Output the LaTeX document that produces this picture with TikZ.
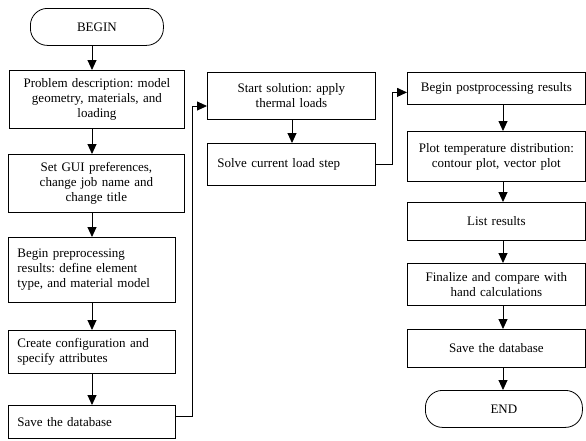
\documentclass[tikz,border=0pt]{standalone}
\usepackage{fontspec}
\setmainfont{Liberation Serif}
\usetikzlibrary{arrows.meta,calc}
\frenchspacing
\begin{document}
\begin{tikzpicture}[x=1pt,y=-1pt,
  box/.style={draw, line width=0.8pt, inner xsep=9pt, inner ysep=2pt, anchor=north west,
    font=\fontsize{13}{15}\selectfont},
  term/.style={draw, line width=0.8pt, rounded corners=17pt, anchor=north west,
    font=\fontsize{13}{15}\selectfont, inner sep=0pt},
  arr/.style={line width=0.9pt, -{Triangle[width=9pt,length=10pt]}},
  link/.style={line width=0.9pt}]
\useasboundingbox (0,0) rectangle (586,440);
\coordinate (lx) at (92,0);
\coordinate (mx) at (292,0);
\coordinate (rx) at (503,0);
% left column
\node[term, minimum width=133pt, minimum height=37pt] (begin) at (30,8) {BEGIN};
\node[box, text width=157pt, minimum height=58pt, align=center] (b1) at (9,70)
  {Problem description: model\\geometry, materials, and\\loading};
\node[box, text width=158pt, minimum height=58pt, align=center] (b2) at (8,154)
  {Set GUI preferences,\\change job name and\\change title};
\node[box, text width=149pt, minimum height=65pt, align=left] (b3) at (8,237)
  {Begin preprocessing\\results: define element\\type, and material model};
\node[box, text width=149pt, minimum height=43pt, align=left] (b4) at (8,330)
  {Create configuration and\\specify attributes};
\node[box, text width=149pt, minimum height=33pt, align=left] (b5) at (8,405)
  {Save the database};
% middle column
\node[box, text width=150pt, minimum height=47pt, align=center] (b6) at (207,72)
  {Start solution: apply\\thermal loads};
\node[box, text width=148pt, inner xsep=10pt, minimum height=42pt, align=left] (b7) at (207,143)
  {Solve current load step};
% right column
\node[box, text width=160pt, minimum height=32pt, align=center] (b8) at (407,72)
  {Begin postprocessing results};
\node[box, text width=160pt, minimum height=50pt, align=center] (b9) at (407,131)
  {Plot temperature distribution:\\contour plot, vector plot};
\node[box, text width=160pt, minimum height=38pt, align=center] (b10) at (407,202)
  {List results};
\node[box, text width=160pt, minimum height=42pt, align=center] (b11) at (407,263)
  {Finalize and compare with\\hand calculations};
\node[box, text width=160pt, minimum height=38pt, align=center] (b12) at (407,329)
  {Save the database};
\node[term, minimum width=157pt, minimum height=37pt] (end) at (425,390) {END};
% connectors
\draw[arr] (begin.south -| lx) -- (b1.north -| lx);
\draw[arr] (b1.south -| lx) -- (b2.north -| lx);
\draw[arr] (b2.south -| lx) -- (b3.north -| lx);
\draw[arr] (b3.south -| lx) -- (b4.north -| lx);
\draw[arr] (b4.south -| lx) -- (b5.north -| lx);
\draw[arr] ($(b5.north east)+(0,11)$) -- ++(17,0) |- ($(b6.north west)+(0,34)$);
\draw[arr] (b6.south -| mx) -- (b7.north -| mx);
\draw[arr] (b7.east) -- ++(17,0) |- ($(b8.west)+(0,4)$);
\draw[arr] (b8.south -| rx) -- (b9.north -| rx);
\draw[arr] (b9.south -| rx) -- (b10.north -| rx);
\draw[arr] (b10.south -| rx) -- (b11.north -| rx);
\draw[arr] (b11.south -| rx) -- (b12.north -| rx);
\draw[arr] (b12.south -| rx) -- (end.north -| rx);
\end{tikzpicture}
\end{document}
